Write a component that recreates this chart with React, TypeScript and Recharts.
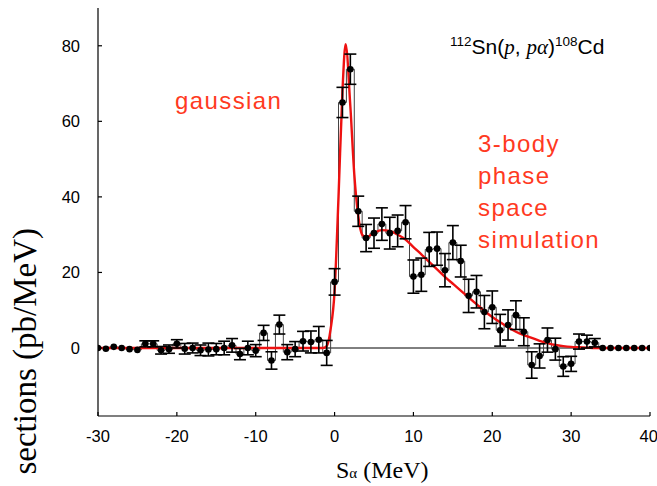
import React from 'react';
import {
  ComposedChart,
  Line,
  Scatter,
  ErrorBar,
  XAxis,
  YAxis,
  ReferenceLine,
} from 'recharts';

// S_alpha bin centres (MeV)
const sAlpha = [
  -30, -29, -28, -27, -26, -25, -24, -23, -22, -21, -20, -19, -18, -17, -16, -15,
  -14, -13, -12, -11, -10, -9, -8, -7, -6, -5, -4, -3, -2, -1, 0, 1, 2, 3, 4, 5,
  6, 7, 8, 9, 10, 11, 12, 13, 14, 15, 16, 17, 18, 19, 20, 21, 22, 23, 24, 25, 26,
  27, 28, 29, 30, 31, 32, 33, 34, 35, 36, 37, 38, 39, 40,
];

// measured cross sections (pb/MeV)
const xsec = [
  0, -0.2, 0.3, 0, -0.3, -0.5, 1.1, 1.1, -0.6, -0.3, 1.1, -0.2, 0, -0.6, -0.4, -0.3,
  0, 0.7, -1.6, 0, -0.7, 4.0, -3.3, 6.2, -1.1, -0.3, 1.8, 1.6, 2.2, -1.3, 17.5, 65,
  73.8, 36.2, 29.1, 30.4, 32.8, 30.4, 31.0, 33.3, 18.9, 19.4, 26.1, 26.3, 20.6,
  27.9, 23.0, 13.8, 14.9, 9.5, 10.8, 4.7, 6.1, 8.7, 4.3, -4.5, -2.1, 2.1, -0.3,
  -4.9, -4.2, 1.7, 1.7, 1.4, 0, 0, 0, 0, 0, 0, 0,
];

// statistical errors (+/-)
const xsecErr = [
  0, 0, 0, 0, 0, 0, 0.8, 0.8, 1.0, 1.1, 1.1, 1.4, 1.3, 1.4, 1.7, 1.5,
  1.8, 1.8, 1.5, 1.8, 1.6, 2.0, 2.3, 2.5, 2.0, 2.0, 2.6, 2.9, 3.5, 3.3, 3.5, 4.0,
  4.0, 4.0, 3.6, 4.0, 4.3, 4.2, 4.2, 4.4, 4.4, 4.4, 4.5, 4.4, 4.4,
  4.5, 4.2, 4.4, 4.3, 4.4, 4.3, 4.2, 4.0, 3.8, 3.7, 3.5, 3.2, 3.2, 2.9,
  2.6, 2.0, 2.0, 1.7, 1.1, 0, 0, 0, 0, 0, 0, 0,
];

// fit curve (gaussian + 3-body phase space)
const fitX = [
  -30, -2, -1.5, -1, -0.5, 0, 0.5, 1, 1.4, 2, 2.5, 3, 3.5, 4, 5, 6, 7, 8, 9, 10,
  11, 12, 13, 14, 15, 16, 17, 18, 19, 20, 21, 22, 23, 24, 25, 26, 27, 28, 29, 30,
  31, 32, 33, 40,
];
const fitY = [
  0, 0, 0, 0.5, 5, 15, 40, 68, 80.4, 64, 46, 35, 30, 29.3, 30.5, 31.2, 31, 30,
  28.7, 26.7, 24.8, 22.8, 20.8, 18.8, 17, 15.2, 13.4, 11.6, 9.8, 8.2, 6.8, 5.5,
  4.3, 3.4, 2.7, 1.9, 1.3, 0.8, 0.5, 0.3, 0.2, 0.1, 0, 0,
];

const xTicks = [-30, -20, -10, 0, 10, 20, 30, 40];
const yTicks = [0, 20, 40, 60, 80];
const yMinorTicks = [-10, 0, 10, 20, 30, 40, 50, 60, 70, 80];

const points = sAlpha.map((x, i) => ({ x, y: xsec[i], err: xsecErr[i] }));
const fit = fitX.map((x, i) => ({ x, y: fitY[i] }));

const RED = '#ff3a1f';
const sans = '"Liberation Sans", Arial, sans-serif';
const serif = '"Liberation Serif", "Times New Roman", serif';
const tickFont = { fontFamily: sans, fontSize: 16.5, fill: '#000' };

const Dot = (p: any) => <circle cx={p.cx} cy={p.cy} r={3.3} fill="#000" />;

export default function App() {
  return (
    <div style={{ position: 'absolute', left: 0, top: 0, width: 657, height: 486, background: '#fff' }}>
      <ComposedChart width={657} height={486} data={points} margin={{ top: 8, right: 7, bottom: 40, left: 0 }}>
        <XAxis
          dataKey="x"
          type="number"
          domain={[-30, 40]}
          ticks={xTicks}
          allowDataOverflow
          height={30}
          tickSize={-4}
          tickMargin={18}
          tick={tickFont}
          stroke="#000"
          strokeWidth={1.2}
        />
        <XAxis
          xAxisId="top"
          orientation="top"
          type="number"
          domain={[-30, 40]}
          ticks={xTicks}
          allowDataOverflow
          height={0}
          tickSize={-4}
          tick={false}
          stroke="#000"
          strokeWidth={1.2}
        />
        <YAxis
          dataKey="y"
          type="number"
          domain={[-18, 90]}
          ticks={yTicks}
          allowDataOverflow
          width={98}
          tickSize={-4}
          tickMargin={22}
          tick={tickFont}
          stroke="#000"
          strokeWidth={1.2}
        />
        <YAxis
          yAxisId="right"
          orientation="right"
          type="number"
          domain={[-18, 90]}
          ticks={yMinorTicks}
          allowDataOverflow
          width={0}
          tickSize={-4}
          tick={false}
          stroke="#000"
          strokeWidth={1.2}
        />
        <ReferenceLine y={0} stroke="#000" strokeWidth={1} />
        <Line
          data={points}
          dataKey="y"
          type="step"
          stroke="#444"
          strokeWidth={1}
          dot={false}
          isAnimationActive={false}
        />
        <Line
          data={fit}
          dataKey="y"
          type="monotone"
          stroke="#ee1111"
          strokeWidth={2.4}
          dot={false}
          isAnimationActive={false}
        />
        <Scatter data={points} dataKey="y" shape={Dot} isAnimationActive={false}>
          <ErrorBar dataKey="err" direction="y" width={6} stroke="#000" strokeWidth={1.6} />
        </Scatter>
      </ComposedChart>

      <svg width={657} height={486} style={{ position: 'absolute', left: 0, top: 0, pointerEvents: 'none' }}>
        <text
          transform="rotate(-90)"
          x={-228}
          y={36}
          textAnchor="end"
          style={{ fontFamily: serif, fontSize: 33, fill: '#000' }}
        >
          sections (pb/MeV)
        </text>
      </svg>

      <div style={{ position: 'absolute', left: 336, top: 457, fontFamily: serif, fontSize: 24, lineHeight: '26px', whiteSpace: 'nowrap' }}>
        S<span style={{ fontSize: 15 }}>α</span> (MeV)
      </div>

      <div style={{ position: 'absolute', left: 450, top: 37, fontFamily: sans, fontSize: 21, lineHeight: '20px', whiteSpace: 'nowrap' }}>
        <span style={{ fontSize: 13.5, position: 'relative', top: -8 }}>112</span>
        Sn(<span style={{ fontFamily: serif, fontStyle: 'italic' }}>p</span>,{' '}
        <span style={{ fontFamily: serif, fontStyle: 'italic' }}>pα</span>)
        <span style={{ fontSize: 13.5, position: 'relative', top: -8 }}>108</span>Cd
      </div>

      <div style={{ position: 'absolute', left: 175, top: 88, color: RED, fontFamily: sans, fontSize: 24, letterSpacing: 1.4, lineHeight: '26px' }}>
        gaussian
      </div>
      <div style={{ position: 'absolute', left: 478, top: 128, color: RED, fontFamily: sans, fontSize: 24, letterSpacing: 1.4, lineHeight: '32px' }}>
        3-body<br />phase<br />space<br />simulation
      </div>
    </div>
  );
}
